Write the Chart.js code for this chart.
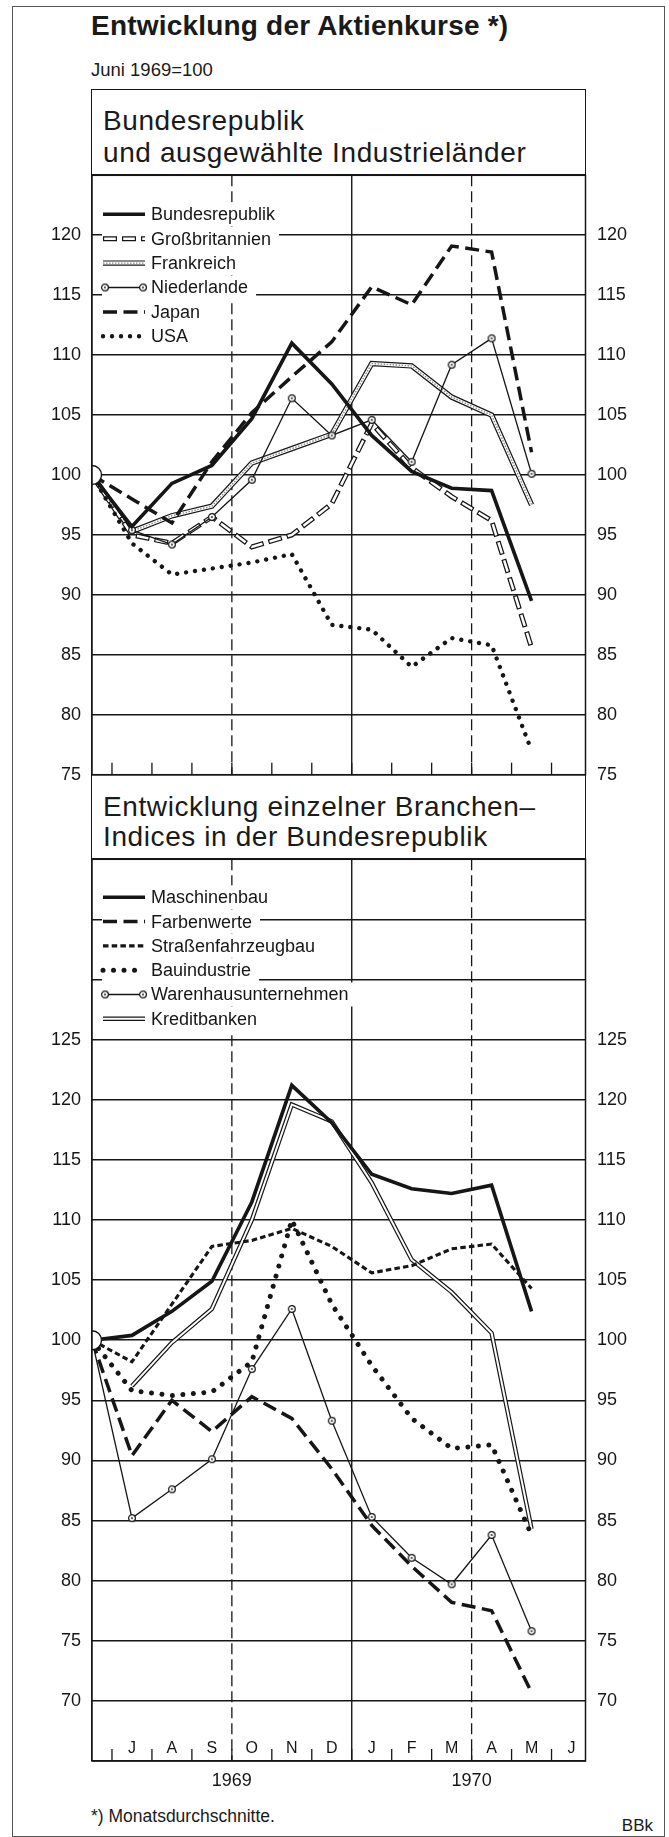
<!DOCTYPE html>
<html lang="de">
<head>
<meta charset="utf-8">
<title>Entwicklung der Aktienkurse</title>
<script src="https://cdn.jsdelivr.net/npm/chart.js@4.4.1/dist/chart.umd.min.js"></script>
<style>
  html, body { margin: 0; padding: 0; background: #fff; }
  #page { position: relative; width: 669px; height: 1837px; overflow: hidden;
          font-family: "Liberation Sans", Arial, sans-serif; color: #1a1a1a; }
  .t { position: absolute; white-space: nowrap; line-height: 1; }
  .h { font-size: 28px; letter-spacing: 0.6px; }
  #frame { position: absolute; left: 12px; top: 6px; width: 651px; height: 1829px; border: 1px solid #555; }
  #panel { position: absolute; left: 91px; top: 89px; width: 495px; height: 1672px;
           box-sizing: border-box; border: 1.5px solid #161616; }
  canvas { position: absolute; left: 0; }
</style>
</head>
<body>
<div id="page">
  <div id="frame"></div>
  <div id="panel"></div>
  <div class="t" style="left:91px;top:12px;font-size:28px;font-weight:bold;letter-spacing:0.2px">Entwicklung der Aktienkurse *)</div>
  <div class="t" style="left:91px;top:61px;font-size:18.5px">Juni 1969=100</div>
  <div class="t h" style="left:103px;top:106.5px">Bundesrepublik</div>
  <div class="t h" style="left:103px;top:138.5px">und ausgewählte Industrieländer</div>
  <div class="t h" style="left:103px;top:792.5px">Entwicklung einzelner Branchen–</div>
  <div class="t h" style="left:103px;top:822.5px">Indices in der Bundesrepublik</div>
  <div class="t" style="left:91px;top:1808px;font-size:17.5px">*) Monatsdurchschnitte.</div>
  <div class="t" style="right:16px;top:1817px;font-size:17px">BBk</div>
  <canvas id="topChart" width="669" height="644" style="top:153px"></canvas>
  <canvas id="bottomChart" width="669" height="984" style="top:837px"></canvas>
</div>

<script>
// Monate Juni 1969 (Index 0) bis Mai 1970 (Index 11)
const monthLabels = ['J', 'A', 'S', 'O', 'N', 'D', 'J', 'F', 'M', 'A', 'M', 'J'];
const yearLabels = ['1969', '1970'];
const yearTicks = [3.5, 9.5];

// Bundesrepublik und ausgewählte Industrieländer
const bundesrepublik  = [100, 95.7, 99.3, 100.8, 104.7, 111.0, 107.6, 103.3, 100.3, 98.9, 98.7, 89.5];
const grossbritannien = [100, 95.0, 94.3, 96.5, 94.0, 95.0, 97.6, 104.3, 100.6, 98.2, 96.2, 85.6];
const frankreich      = [100, 95.3, 96.6, 97.4, 101.0, 102.2, 103.4, 109.3, 109.1, 106.5, 105.0, 97.5];
const niederlande     = [100, 95.4, 94.2, 96.5, 99.6, 106.4, 103.3, 104.6, 101.1, 109.2, 111.4, 100.1];
const japan           = [100, 98.0, 96.0, 101.1, 105.2, 108.2, 111.1, 115.7, 114.2, 119.1, 118.6, 101.9];
const usa             = [100, 94.3, 91.7, 92.2, 92.7, 93.4, 87.5, 87.1, 84.0, 86.4, 85.8, 77.0];

// Branchen-Indices in der Bundesrepublik
const maschinenbau        = [100, 100.4, 102.4, 104.9, 111.5, 121.2, 118.1, 113.8, 112.6, 112.2, 112.9, 102.4];
const farbenwerte         = [100, 90.4, 95.0, 92.4, 95.3, 93.5, 89.3, 84.6, 81.2, 78.2, 77.5, 70.7];
const strassenfahrzeugbau = [100, 98.2, 103.0, 107.8, 108.3, 109.3, 107.8, 105.6, 106.2, 107.6, 108.0, 104.3];
const bauindustrie        = [100, 95.8, 95.4, 95.7, 98.2, 110.0, 103.0, 97.9, 93.5, 91.0, 91.3, 83.8];
const warenhaus           = [100, 85.2, 87.6, 90.1, 97.6, 102.6, 93.3, 85.3, 81.9, 79.7, 83.8, 75.8];
const kreditbanken        = [null, 96.2, 99.8, 102.6, 110.0, 119.6, 118.2, 113.1, 106.7, 104.0, 100.6, 84.3];

const ink = '#161616';
Chart.defaults.font.family = '"Liberation Sans", Arial, sans-serif';
Chart.defaults.color = ink;

// kleiner Kreis mit Punkt fuer Niederlande / Warenhaus
function makeRing() {
    const c = document.createElement('canvas');
    c.width = 10; c.height = 10;
    const g = c.getContext('2d');
    g.beginPath(); g.arc(5, 5, 3.4, 0, Math.PI * 2);
    g.fillStyle = '#fff'; g.fill();
    g.lineWidth = 1.2; g.strokeStyle = ink; g.stroke();
    g.beginPath(); g.arc(5, 5, 0.9, 0, Math.PI * 2);
    g.fillStyle = ink; g.fill();
    return c;
}
const ring = makeRing();

// Linienarten, von unten nach oben gezeichnet
const thick = [{ w: 3.6 }];
const thin = [{ w: 1.3 }];
const longDash = [{ w: 3.5, dash: [14, 6.5] }];
const shortDash = [{ w: 3.1, dash: [5.5, 3.2] }];
const smallDots = [{ w: 4.4, dash: [0.01, 9], cap: 'round' }];
const bigDots = [{ w: 5, dash: [0.01, 10.5], cap: 'round' }];
const outlineDash = [{ w: 5, dash: [14, 5] }, { w: 2.5, dash: [11.6, 7.4], offset: -1.2, color: '#fff' }];
const hatched = [{ w: 5.4 }, { w: 3, color: '#fff' }, { w: 1.4, dash: [1.5, 1.5], color: '#8a8a8a' }];
const doubleLine = [{ w: 4.4 }, { w: 2, color: '#fff' }];

const topSeries = [
    { label: 'Bundesrepublik', data: bundesrepublik, style: thick, base: true, z: 6 },
    { label: 'Großbritannien', data: grossbritannien, style: outlineDash, z: 2 },
    { label: 'Frankreich', data: frankreich, style: hatched, z: 1 },
    { label: 'Niederlande', data: niederlande, style: thin, ring: true, z: 3 },
    { label: 'Japan', data: japan, style: longDash, z: 5 },
    { label: 'USA', data: usa, style: smallDots, z: 4 },
];

const bottomSeries = [
    { label: 'Maschinenbau', data: maschinenbau, style: thick, base: true, z: 6 },
    { label: 'Farbenwerte', data: farbenwerte, style: longDash, z: 5 },
    { label: 'Straßenfahrzeugbau', data: strassenfahrzeugbau, style: shortDash, z: 4 },
    { label: 'Bauindustrie', data: bauindustrie, style: bigDots, z: 3 },
    { label: 'Warenhausunternehmen', data: warenhaus, style: thin, ring: true, z: 2 },
    { label: 'Kreditbanken', data: kreditbanken, style: doubleLine, z: 1 },
];

// Trennlinien: Quartals- und Jahreswechsel
const separators = [
    { at: 3.5, w: 1.3, dash: [11, 5] },
    { at: 6.5, w: 1.4, dash: [] },
    { at: 9.5, w: 1.3, dash: [11, 5] },
];

function buildDatasets(series) {
    const out = [];
    series.slice().sort((a, b) => a.z - b.z).forEach(s => {
        s.style.forEach((l, k) => {
            const top = k === s.style.length - 1;
            out.push({
                label: s.label,
                data: s.data.map((v, i) => ({ x: i, y: v })),
                borderColor: l.color || ink,
                borderWidth: l.w,
                borderDash: l.dash || [],
                borderDashOffset: l.offset || 0,
                borderCapStyle: l.cap || 'butt',
                borderJoinStyle: l.cap ? 'round' : 'miter',
                tension: 0,
                fill: false,
                spanGaps: false,
                pointStyle: s.ring && top ? ring : 'circle',
                pointRadius: ctx => {
                    if (!top) return 0;
                    if (s.base) return ctx.dataIndex === 0 ? 9.5 : 0;
                    if (s.ring) return ctx.dataIndex === 0 ? 0 : 5;
                    return 0;
                },
                pointBackgroundColor: '#fff',
                pointBorderColor: ink,
                pointBorderWidth: 1.4,
            });
        });
    });
    // erster Eintrag wird zuerst (ganz unten) gezeichnet
    out.forEach((d, i) => { d.order = out.length - i; });
    return out;
}

function drawLegend(ctx, a, items, first, step) {
    ctx.font = '18px "Liberation Sans"';
    ctx.textBaseline = 'middle';
    ctx.textAlign = 'left';
    items.forEach((it, k) => {
        const y = a.top + first + k * step;
        const tx = a.left + 59;
        const w = ctx.measureText(it.label).width;
        ctx.setLineDash([]);
        ctx.fillStyle = '#fff';
        ctx.fillRect(a.left + 10, y - 12, tx + w + 8 - (a.left + 10), 24);
        const x1 = a.left + 11, x2 = a.left + 53;
        it.style.forEach(l => {
            ctx.lineWidth = l.w;
            ctx.setLineDash(l.dash || []);
            ctx.lineDashOffset = l.offset || 0;
            ctx.lineCap = l.cap || 'butt';
            ctx.strokeStyle = l.color || ink;
            ctx.beginPath(); ctx.moveTo(x1, y); ctx.lineTo(x2, y); ctx.stroke();
        });
        if (it.ring) {
            ctx.drawImage(ring, x1 - 3, y - 5);
            ctx.drawImage(ring, x2 - 7, y - 5);
        }
        ctx.fillStyle = ink;
        ctx.fillText(it.label, tx, y + 1);
    });
}

function makeDeco(opts) {
    return {
        id: 'deco',
        beforeDatasetsDraw(chart) {
            const { ctx, chartArea: a, scales: { x } } = chart;
            ctx.save();
            ctx.strokeStyle = ink;
            separators.forEach(s => {
                const px = x.getPixelForValue(s.at);
                ctx.lineWidth = s.w;
                ctx.setLineDash(s.dash);
                ctx.beginPath(); ctx.moveTo(px, a.top); ctx.lineTo(px, a.bottom); ctx.stroke();
            });
            ctx.setLineDash([]);
            ctx.lineWidth = 1.3;
            for (let m = 0.5; m < x.max; m++) {
                const px = x.getPixelForValue(m);
                ctx.beginPath(); ctx.moveTo(px, a.bottom); ctx.lineTo(px, a.bottom - 12); ctx.stroke();
            }
            if (opts.months) {
                ctx.fillStyle = ink;
                ctx.font = '16px "Liberation Sans"';
                ctx.textAlign = 'center';
                ctx.textBaseline = 'middle';
                opts.months.forEach((t, i) => ctx.fillText(t, x.getPixelForValue(i + 1), a.bottom - 12));
            }
            drawLegend(ctx, a, opts.legend, opts.first, opts.step);
            ctx.restore();
        },
        afterDatasetsDraw(chart) {
            const { ctx, chartArea: a } = chart;
            ctx.save();
            ctx.strokeStyle = ink;
            ctx.lineWidth = 1.5;
            ctx.strokeRect(a.left, a.top, a.right - a.left, a.bottom - a.top);
            ctx.restore();
        }
    };
}

function yScales(min, max, lo, hi) {
    const ticks = {
        stepSize: 5, padding: 11, font: { size: 18 }, color: ink,
        callback: v => (v >= lo && v <= hi) ? v : ''
    };
    return {
        y: {
            position: 'left', min, max, ticks,
            grid: { color: ink, lineWidth: 1.6, drawTicks: false },
            border: { display: false },
            afterFit: s => { s.width = 92; }
        },
        y2: {
            position: 'right', min, max,
            ticks: Object.assign({}, ticks, { padding: 11.5 }),
            grid: { display: false, drawTicks: false },
            border: { display: false },
            afterFit: s => { s.width = 83.5; }
        }
    };
}

const topChart = new Chart(document.getElementById('topChart'), {
    type: 'line',
    data: { datasets: buildDatasets(topSeries) },
    options: {
        responsive: false,
        animation: false,
        devicePixelRatio: 1,
        events: [],
        layout: { padding: { top: 20, bottom: 20, left: 0, right: 0 } },
        plugins: { legend: { display: false }, tooltip: { enabled: false } },
        scales: Object.assign({
            x: { type: 'linear', min: 0, max: 12.35, display: false }
        }, yScales(75, 125, 75, 120))
    },
    plugins: [makeDeco({ legend: topSeries, first: 39, step: 24.4 })]
});

const bottomChart = new Chart(document.getElementById('bottomChart'), {
    type: 'line',
    data: { datasets: buildDatasets(bottomSeries) },
    options: {
        responsive: false,
        animation: false,
        devicePixelRatio: 1,
        events: [],
        layout: { padding: { top: 20, bottom: 0, left: 0, right: 0 } },
        plugins: { legend: { display: false }, tooltip: { enabled: false } },
        scales: Object.assign({
            x: {
                type: 'linear', min: 0, max: 12.35, position: 'bottom',
                grid: { display: false, drawTicks: false },
                border: { display: false },
                afterBuildTicks: s => { s.ticks = yearTicks.map(v => ({ value: v })); },
                ticks: { autoSkip: false, maxRotation: 0, padding: 9, font: { size: 18 }, color: ink,
                         callback: (v, i) => yearLabels[i] },
                afterFit: s => { s.height = 60; }
            }
        }, yScales(65, 140, 70, 125))
    },
    plugins: [makeDeco({ legend: bottomSeries, months: monthLabels, first: 38, step: 24.3 })]
});
</script>
</body>
</html>
